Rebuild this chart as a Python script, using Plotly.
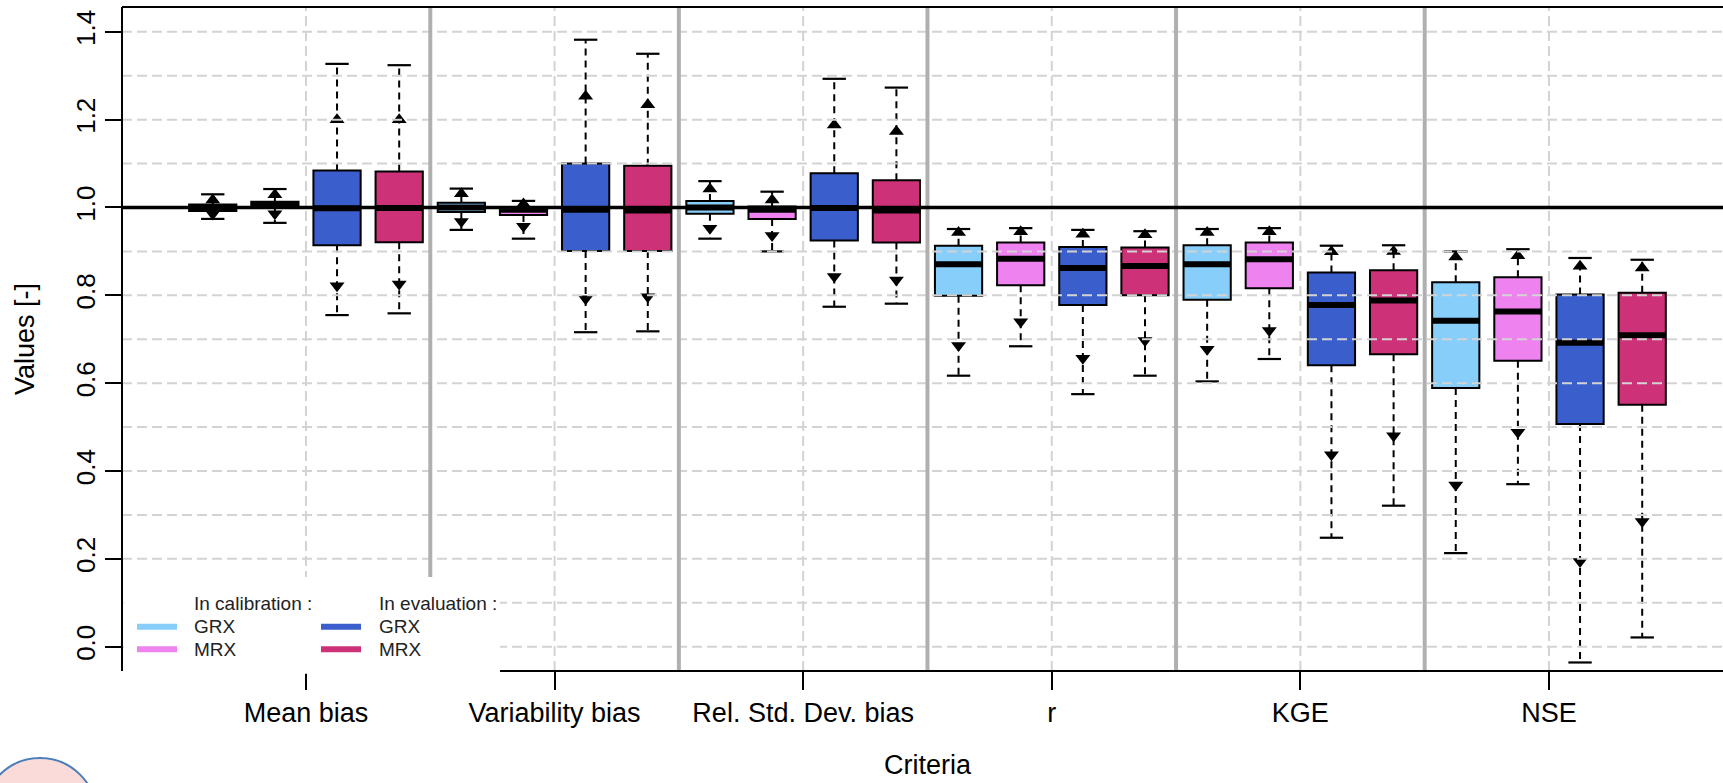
import plotly.graph_objects as go

# ---------------------------------------------------------------------------
# Criteria on the x axis
categories = ["Mean bias", "Variability bias", "Rel. Std. Dev. bias", "r", "KGE", "NSE"]

# Summary statistics per model/period, one value per criterion
# (upper whisker, upper percentile, Q3, median, Q1, lower percentile, lower whisker)
grx_cal_max = [1.030, 1.043, 1.060, 0.951, 0.951, 0.900]
grx_cal_phi = [1.017, 1.031, 1.042, 0.943, 0.943, 0.887]
grx_cal_q3 = [1.007, 1.011, 1.015, 0.913, 0.914, 0.830]
grx_cal_med = [1.000, 1.000, 1.000, 0.871, 0.871, 0.742]
grx_cal_q1 = [0.992, 0.990, 0.986, 0.799, 0.790, 0.589]
grx_cal_plo = [0.985, 0.968, 0.953, 0.686, 0.677, 0.368]
grx_cal_min = [0.974, 0.949, 0.929, 0.617, 0.604, 0.213]

mrx_cal_max = [1.042, 1.015, 1.036, 0.953, 0.953, 0.905]
mrx_cal_phi = [1.029, 1.008, 1.017, 0.945, 0.945, 0.890]
mrx_cal_q3 = [1.013, 0.998, 1.002, 0.920, 0.920, 0.841]
mrx_cal_med = [1.006, 0.995, 0.995, 0.883, 0.882, 0.763]
mrx_cal_q1 = [0.999, 0.983, 0.974, 0.823, 0.816, 0.651]
mrx_cal_plo = [0.986, 0.957, 0.936, 0.740, 0.720, 0.488]
mrx_cal_min = [0.965, 0.929, 0.900, 0.684, 0.655, 0.370]

grx_eval_max = [1.327, 1.382, 1.293, 0.949, 0.913, 0.885]
grx_eval_phi = [1.200, 1.253, 1.188, 0.939, 0.899, 0.866]
grx_eval_q3 = [1.084, 1.100, 1.078, 0.910, 0.852, 0.802]
grx_eval_med = [0.998, 0.995, 0.999, 0.862, 0.778, 0.692]
grx_eval_q1 = [0.914, 0.901, 0.925, 0.778, 0.641, 0.507]
grx_eval_plo = [0.822, 0.792, 0.843, 0.657, 0.437, 0.194]
grx_eval_min = [0.755, 0.716, 0.774, 0.575, 0.248, -0.036]

mrx_eval_max = [1.324, 1.350, 1.273, 0.946, 0.914, 0.881]
mrx_eval_phi = [1.200, 1.234, 1.173, 0.938, 0.900, 0.862]
mrx_eval_q3 = [1.082, 1.095, 1.062, 0.909, 0.857, 0.806]
mrx_eval_med = [0.999, 0.993, 0.993, 0.867, 0.788, 0.709]
mrx_eval_q1 = [0.921, 0.901, 0.920, 0.800, 0.666, 0.551]
mrx_eval_plo = [0.826, 0.797, 0.835, 0.697, 0.480, 0.285]
mrx_eval_min = [0.759, 0.718, 0.781, 0.617, 0.321, 0.021]

y_ticks = [0.0, 0.2, 0.4, 0.6, 0.8, 1.0, 1.2, 1.4]
y_tick_labels = ["0.0", "0.2", "0.4", "0.6", "0.8", "1.0", "1.2", "1.4"]
grid_levels = [round(0.1 * k, 1) for k in range(15)]
reference_value = 1.0

# ---------------------------------------------------------------------------
series = [
    dict(color="#87CEFA", offset=-0.375,
         stats=(grx_cal_max, grx_cal_phi, grx_cal_q3, grx_cal_med, grx_cal_q1, grx_cal_plo, grx_cal_min)),
    dict(color="#EE82EE", offset=-0.125,
         stats=(mrx_cal_max, mrx_cal_phi, mrx_cal_q3, mrx_cal_med, mrx_cal_q1, mrx_cal_plo, mrx_cal_min)),
    dict(color="#3A5FCD", offset=0.125,
         stats=(grx_eval_max, grx_eval_phi, grx_eval_q3, grx_eval_med, grx_eval_q1, grx_eval_plo, grx_eval_min)),
    dict(color="#CD3278", offset=0.375,
         stats=(mrx_eval_max, mrx_eval_phi, mrx_eval_q3, mrx_eval_med, mrx_eval_q1, mrx_eval_plo, mrx_eval_min)),
]

BOX_W = 0.19
CAP_HALF = 0.047
W, H = 1723, 783
M_L, M_R, M_T, M_B = 122, 0, 7, 112
X_RANGE = [0.26, 6.70]
Y_RANGE = [-0.0554, 1.4565]
FONT = "Liberation Sans, Arial, sans-serif"

plot_w = W - M_L - M_R
plot_h = H - M_T - M_B


def px_x(px):
    return (px - M_L) / plot_w


def px_y(py):
    return (H - M_B - py) / plot_h


fig = go.Figure()

med_x, med_y = [], []
whisk_x, whisk_y = [], []
cap_x, cap_y = [], []
up_x, up_y = [], []
dn_x, dn_y = [], []

for s in series:
    vmax, phi, q3, med, q1, plo, vmin = s["stats"]
    xs = [k + 1 + s["offset"] for k in range(len(categories))]
    fig.add_trace(go.Bar(
        x=xs, base=q1, y=[a - b for a, b in zip(q3, q1)], width=BOX_W,
        marker=dict(color=s["color"], line=dict(color="black", width=2)),
        hoverinfo="skip",
    ))
    for i, x in enumerate(xs):
        med_x += [x - BOX_W / 2, x + BOX_W / 2, None]
        med_y += [med[i], med[i], None]
        whisk_x += [x, x, None, x, x, None]
        whisk_y += [q3[i], vmax[i], None, q1[i], vmin[i], None]
        cap_x += [x - CAP_HALF, x + CAP_HALF, None, x - CAP_HALF, x + CAP_HALF, None]
        cap_y += [vmax[i], vmax[i], None, vmin[i], vmin[i], None]
        up_x.append(x)
        up_y.append(phi[i])
        dn_x.append(x)
        dn_y.append(plo[i])

fig.add_trace(go.Scatter(x=whisk_x, y=whisk_y, mode="lines",
                         line=dict(color="black", width=2, dash="7px,5px"), hoverinfo="skip"))
fig.add_trace(go.Scatter(x=cap_x, y=cap_y, mode="lines",
                         line=dict(color="black", width=2.2), hoverinfo="skip"))
fig.add_trace(go.Scatter(x=med_x, y=med_y, mode="lines",
                         line=dict(color="black", width=6), hoverinfo="skip"))
fig.add_trace(go.Scatter(x=up_x, y=up_y, mode="markers",
                         marker=dict(symbol="triangle-up", size=13, color="black"), hoverinfo="skip"))
fig.add_trace(go.Scatter(x=dn_x, y=dn_y, mode="markers",
                         marker=dict(symbol="triangle-down", size=13, color="black"), hoverinfo="skip"))

shapes = []
# dashed grid drawn over the boxes
for v in grid_levels:
    shapes.append(dict(type="line", xref="paper", yref="y", x0=0, x1=1, y0=v, y1=v, layer="above",
                       line=dict(color="#D3D3D3", width=2, dash="10px,5px")))
for k in range(len(categories)):
    shapes.append(dict(type="line", xref="x", yref="paper", x0=k + 1, x1=k + 1, y0=0, y1=1, layer="above",
                       line=dict(color="#D3D3D3", width=2, dash="10px,5px")))
# separators between criteria
for k in range(len(categories) - 1):
    shapes.append(dict(type="line", xref="x", yref="paper", x0=k + 1.5, x1=k + 1.5, y0=0, y1=1, layer="above",
                       line=dict(color="#B0B0B0", width=4)))
# legend background
shapes.append(dict(type="rect", xref="paper", yref="paper", x0=0.001, x1=px_x(500), y0=-0.004, y1=px_y(577),
                   layer="above", fillcolor="white", line=dict(width=0)))
# reference line
shapes.append(dict(type="line", xref="paper", yref="y", x0=0, x1=1, y0=reference_value, y1=reference_value,
                   layer="above", line=dict(color="black", width=3.4)))
# frame
shapes.append(dict(type="line", xref="paper", yref="paper", x0=0, x1=1, y0=1, y1=1, layer="above",
                   line=dict(color="black", width=2)))
shapes.append(dict(type="line", xref="paper", yref="paper", x0=0, x1=0, y0=0, y1=1, layer="above",
                   line=dict(color="black", width=2)))
shapes.append(dict(type="line", xref="paper", yref="paper", x0=px_x(500), x1=1, y0=0, y1=0, layer="above",
                   line=dict(color="black", width=2)))

# legend swatches
legend_rows = [px_y(626.7), px_y(649.3)]
legend_cols = [(137, 177, 192), (321, 361, 376.7)]
legend_colors = [[series[0]["color"], series[1]["color"]], [series[2]["color"], series[3]["color"]]]
legend_heads = ["In calibration :", "In evaluation :"]
legend_labels = ["GRX", "MRX"]
annotations = []
for c, (x0, x1, xt) in enumerate(legend_cols):
    annotations.append(dict(text=legend_heads[c], xref="paper", yref="paper", x=px_x(xt), y=px_y(603.3),
                            xanchor="left", yanchor="middle", showarrow=False,
                            font=dict(family=FONT, size=19, color="#222222")))
    for r, yr in enumerate(legend_rows):
        shapes.append(dict(type="line", xref="paper", yref="paper", x0=px_x(x0), x1=px_x(x1), y0=yr, y1=yr,
                           layer="above", line=dict(color=legend_colors[c][r], width=6)))
        annotations.append(dict(text=legend_labels[r], xref="paper", yref="paper", x=px_x(xt), y=yr,
                                xanchor="left", yanchor="middle", showarrow=False,
                                font=dict(family=FONT, size=19, color="#222222")))

# decorative badge in the lower-left corner
shapes.append(dict(type="circle", xref="paper", yref="paper",
                   x0=px_x(-16.7), x1=px_x(96.7), y0=px_y(871.4), y1=px_y(758),
                   fillcolor="#FBDADA", line=dict(color="#4A7EBB", width=2), layer="above"))

# axis titles
annotations.append(dict(text="Criteria", xref="paper", yref="paper", x=px_x(928), y=px_y(765),
                        xanchor="center", yanchor="middle", showarrow=False,
                        font=dict(family=FONT, size=27, color="black")))
annotations.append(dict(text="Values [-]", xref="paper", yref="paper", x=px_x(25), y=px_y(339),
                        xanchor="center", yanchor="middle", showarrow=False, textangle=-90,
                        font=dict(family=FONT, size=27, color="black")))

fig.update_layout(
    width=W, height=H,
    margin=dict(l=M_L, r=M_R, t=M_T, b=M_B),
    paper_bgcolor="white", plot_bgcolor="white",
    barmode="overlay", showlegend=False,
    shapes=shapes, annotations=annotations,
    font=dict(family=FONT, color="black"),
    xaxis=dict(range=X_RANGE, tickvals=list(range(1, len(categories) + 1)), ticktext=categories,
               ticks="outside", ticklen=18, tickwidth=2, tickcolor="black",
               showgrid=False, zeroline=False, showline=False,
               tickfont=dict(family=FONT, size=27, color="black")),
    yaxis=dict(range=Y_RANGE, tickvals=y_ticks, ticktext=y_tick_labels, tickangle=-90,
               ticks="outside", ticklen=16, tickwidth=2, tickcolor="black",
               showgrid=False, zeroline=False, showline=False,
               tickfont=dict(family=FONT, size=26, color="black")),
)

fig.write_html("out.html")
